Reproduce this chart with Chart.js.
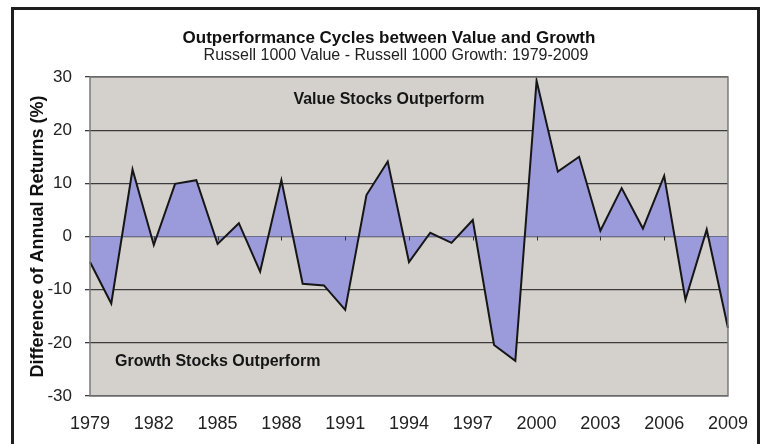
<!DOCTYPE html>
<html>
<head>
<meta charset="utf-8">
<script src="https://cdn.jsdelivr.net/npm/chart.js@4.4.0/dist/chart.umd.min.js"></script>
<style>
  html, body { margin: 0; padding: 0; background: #fff; }
  #wrap { width: 765px; height: 444px; }
</style>
</head>
<body>
<div id="wrap"><canvas id="cv" width="765" height="444"></canvas></div>
<script>
// jahre (kategorien)
const years = ["1979","1980","1981","1982","1983","1984","1985","1986","1987","1988",
               "1989","1990","1991","1992","1993","1994","1995","1996","1997","1998",
               "1999","2000","2001","2002","2003","2004","2005","2006","2007","2008","2009"];

// Russell 1000 Value minus Russell 1000 Growth, in %
const diffReturns = [-4.8, -12.6, 12.6, -1.6, 9.9, 10.6, -1.4, 2.5, -6.6, 10.6,
                     -8.9, -9.2, -13.8, 7.8, 14.1, -4.8, 0.7, -1.2, 3.1, -20.4,
                     -23.4, 29.3, 12.2, 15.0, 1.1, 9.1, 1.5, 11.4, -11.9, 1.3, -17.2];

// y achse
const yTicks = [-30, -20, -10, 0, 10, 20, 30];

const chartTitle = "Outperformance Cycles between Value and Growth";
const chartSubtitle = "Russell 1000 Value - Russell 1000 Growth: 1979-2009";
const yTitle = "Difference of Annual Returns (%)";
const topNote = "Value Stocks Outperform";
const bottomNote = "Growth Stocks Outperform";

const FONT = "'Liberation Sans', Arial, sans-serif";

// hintergrund, rahmen und texte
const decor = {
  id: "decor",
  beforeDraw(chart) {
    const ctx = chart.ctx, a = chart.chartArea;
    ctx.save();
    ctx.fillStyle = "#fff";
    ctx.fillRect(0, 0, chart.width, chart.height);
    ctx.fillStyle = "#d4d1cc";
    ctx.fillRect(a.left, a.top, a.right - a.left, a.bottom - a.top);
    // aussenrahmen
    ctx.strokeStyle = "#1e1e1e";
    ctx.lineWidth = 3;
    ctx.strokeRect(12.5, 8.5, 746, 470);
    // titel
    ctx.fillStyle = "#111";
    ctx.textAlign = "center";
    ctx.textBaseline = "middle";
    ctx.font = "bold 17px " + FONT;
    ctx.fillText(chartTitle, 389, 38);
    ctx.font = "16px " + FONT;
    ctx.fillStyle = "#222";
    ctx.fillText(chartSubtitle, 396, 56);
    ctx.restore();
  },
  afterDatasetsDraw(chart) {
    const ctx = chart.ctx, a = chart.chartArea;
    const x = chart.scales.x, y = chart.scales.y;
    ctx.save();
    // plot umrandung
    ctx.strokeStyle = "#7a7a7a";
    ctx.lineWidth = 1.5;
    ctx.strokeRect(a.left, a.top, a.right - a.left, a.bottom - a.top);
    // kleine ticks auf der nulllinie
    const y0 = y.getPixelForValue(0);
    ctx.strokeStyle = "#333";
    ctx.lineWidth = 1;
    years.forEach((yr, i) => {
      if (i % 3 !== 0 || i === 0 || i === years.length - 1) return;
      const px = Math.round(x.getPixelForValue(i)) + 0.5;
      ctx.beginPath();
      ctx.moveTo(px, y0);
      ctx.lineTo(px, y0 + 4);
      ctx.stroke();
    });
    // beschriftungen im plot
    ctx.fillStyle = "#151515";
    ctx.font = "bold 16px " + FONT;
    ctx.textBaseline = "middle";
    ctx.textAlign = "center";
    ctx.fillText(topNote, 389, 100);
    ctx.textAlign = "left";
    ctx.fillText(bottomNote, 115, 362);
    ctx.restore();
  }
};

const config = {
  type: "line",
  data: {
    labels: years,
    datasets: [{
      data: diffReturns,
      borderColor: "#161616",
      borderWidth: 2,
      backgroundColor: "#9b9bdc",
      fill: "origin",
      tension: 0,
      pointRadius: 0
    }]
  },
  options: {
    responsive: false,
    animation: false,
    layout: { padding: { left: 27, right: 36, top: 77, bottom: 0 } },
    plugins: { legend: { display: false }, tooltip: { enabled: false } },
    scales: {
      x: {
        offset: false,
        grid: { display: false, drawTicks: false },
        border: { display: false },
        ticks: {
          autoSkip: false,
          maxRotation: 0,
          padding: 17,
          color: "#222",
          font: { family: FONT, size: 18 },
          callback: (v, i) => (i % 3 === 0 ? years[i] : "")
        },
        afterFit: (s) => { s.height = 48; }
      },
      y: {
        min: yTicks[0],
        max: yTicks[yTicks.length - 1],
        afterBuildTicks: (s) => { s.ticks = yTicks.map((v) => ({ value: v })); },
        grid: { color: "#3c3c3c", lineWidth: 1.3, tickLength: 5 },
        border: { display: false },
        ticks: {
          padding: 13,
          color: "#222",
          font: { family: FONT, size: 17 }
        },
        title: {
          display: true,
          text: yTitle,
          color: "#111",
          padding: 0,
          font: { family: FONT, size: 18, weight: "bold" }
        },
        afterFit: (s) => { s.width = 63; }
      }
    }
  },
  plugins: [decor]
};

new Chart(document.getElementById("cv").getContext("2d"), config);
</script>
</body>
</html>
